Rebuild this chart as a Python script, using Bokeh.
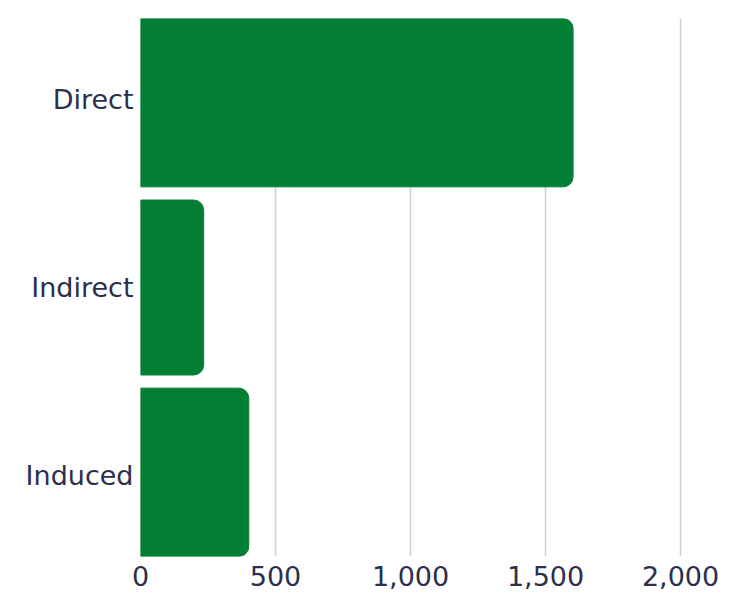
from bokeh.plotting import figure
from bokeh.models import FactorRange, Range1d, NumeralTickFormatter, FixedTicker
from bokeh.embed import file_html
from bokeh.resources import INLINE

categories = ["Direct", "Indirect", "Induced"]
values = [1602, 234, 401]
tick_values = [0, 500, 1000, 1500, 2000]

GREEN = "#027f35"
TEXT = "#2b2f4b"
FONT = "DejaVu Sans"

p = figure(width=730, height=595, output_backend="svg", toolbar_location=None,
           y_range=FactorRange(factors=categories[::-1], range_padding=-0.07,
                               range_padding_units="absolute"),
           x_range=Range1d(0, 2185),
           min_border_left=140, min_border_top=18, min_border_right=0, min_border_bottom=39)

p.hbar(y=categories, left=0, right=values, height=0.93, color=GREEN,
       border_radius=(0, 10, 10, 0))

p.outline_line_color = None
p.background_fill_color = "white"
p.border_fill_color = "white"

p.ygrid.grid_line_color = None
p.xgrid.grid_line_color = "#cfcfd4"
p.xgrid.grid_line_width = 1.5
p.xaxis.ticker = FixedTicker(ticks=tick_values)
p.xaxis.formatter = NumeralTickFormatter(format="0,0")

for ax in (p.xaxis, p.yaxis):
    ax.axis_line_color = None
    ax.major_tick_line_color = None
    ax.minor_tick_line_color = None
    ax.major_tick_out = 0
    ax.major_tick_in = 0
    ax.major_label_text_font = FONT
    ax.major_label_text_font_size = "27px"
    ax.major_label_text_color = TEXT
p.xaxis.major_label_standoff = 9
p.yaxis.major_label_standoff = 7

open("out.html", "w").write(file_html(p, INLINE))
